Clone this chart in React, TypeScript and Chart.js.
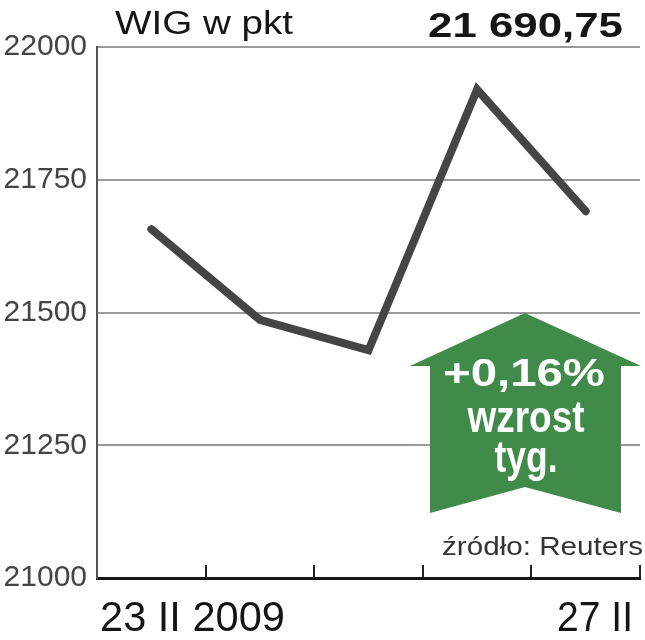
import React, { useEffect, useRef } from 'react';
import { Chart, registerables } from 'chart.js';

Chart.register(...registerables);

const categories = ['23 II 2009', '24 II', '25 II', '26 II', '27 II'];
const wigValues = [21657, 21486, 21429, 21920, 21690.75];
const yTicks = [21000, 21250, 21500, 21750, 22000];
const xEdgeLabels = ['23 II 2009', '27 II'];
const titleText = 'WIG w pkt';
const lastValueText = '21 690,75';
const changeLines = ['+0,16%', 'wzrost', 'tyg.'];
const sourceText = 'źródło: Reuters';

const FONT = '"Liberation Sans", Arial, sans-serif';

function drawFit(
  ctx: CanvasRenderingContext2D,
  text: string,
  x: number,
  baseline: number,
  width: number,
  size: number,
  weight: string,
  color: string,
  align: 'left' | 'right' | 'center'
) {
  ctx.save();
  ctx.font = `${weight} ${size}px ${FONT}`;
  const w = ctx.measureText(text).width;
  const sx = width / w;
  const left = align === 'left' ? x : align === 'right' ? x - width : x - width / 2;
  ctx.translate(left, baseline);
  ctx.scale(sx, 1);
  ctx.fillStyle = color;
  ctx.textAlign = 'left';
  ctx.textBaseline = 'alphabetic';
  ctx.fillText(text, 0, 0);
  ctx.restore();
}

const decorPlugin = {
  id: 'decor',
  afterDraw(chart: any) {
    const ctx: CanvasRenderingContext2D = chart.ctx;
    const area = chart.chartArea;

    // header
    drawFit(ctx, titleText, 115, 34, 178, 33, 'normal', '#151515', 'left');
    drawFit(ctx, lastValueText, 623, 37, 195, 35, 'bold', '#151515', 'right');

    // x edge labels
    drawFit(ctx, xEdgeLabels[0], area.left + 3, 631, 185, 43, 'normal', '#151515', 'left');
    drawFit(ctx, xEdgeLabels[1], area.right - 7, 631, 76, 43, 'normal', '#151515', 'right');

    // source
    drawFit(ctx, sourceText, 442, 555, 201, 25, 'normal', '#333333', 'left');

    // green arrow
    ctx.save();
    ctx.beginPath();
    ctx.moveTo(525, 313);
    ctx.lineTo(641, 366);
    ctx.lineTo(621, 366);
    ctx.lineTo(621, 513);
    ctx.lineTo(525, 487);
    ctx.lineTo(430, 513);
    ctx.lineTo(430, 366);
    ctx.lineTo(410, 366);
    ctx.closePath();
    ctx.fillStyle = '#408a4a';
    ctx.fill();
    ctx.restore();

    drawFit(ctx, changeLines[0], 524, 386, 162, 38, 'bold', '#ffffff', 'center');
    drawFit(ctx, changeLines[1], 526, 432, 117, 44, 'bold', '#ffffff', 'center');
    drawFit(ctx, changeLines[2], 526, 472, 63, 44, 'bold', '#ffffff', 'center');
  },
};

export default function App() {
  const ref = useRef<HTMLCanvasElement>(null);

  useEffect(() => {
    if (!ref.current) return;
    const chart = new Chart(ref.current, {
      type: 'line',
      data: {
        labels: categories,
        datasets: [
          {
            data: wigValues,
            borderColor: '#454545',
            borderWidth: 8,
            borderCapStyle: 'round',
            borderJoinStyle: 'miter',
            pointRadius: 0,
            tension: 0,
            fill: false,
          },
        ],
      },
      options: {
        animation: false,
        responsive: false,
        maintainAspectRatio: false,
        layout: { padding: { top: 47, right: 5, left: 0, bottom: 0 } },
        plugins: {
          legend: { display: false },
          tooltip: { enabled: false },
          title: { display: false },
        },
        scales: {
          x: {
            type: 'category',
            offset: true,
            grid: {
              display: true,
              offset: true,
              drawOnChartArea: false,
              drawTicks: true,
              tickLength: -13,
              color: '#222222',
              lineWidth: 2,
            },
            border: { display: true, color: '#151515', width: 3 },
            ticks: { display: false },
            afterFit: (scale: any) => {
              scale.height = 62;
            },
          },
          y: {
            min: 21000,
            max: 22000,
            afterBuildTicks: (scale: any) => {
              scale.ticks = yTicks.map((v) => ({ value: v }));
            },
            grid: {
              display: true,
              drawTicks: false,
              color: '#9a9a9a',
              lineWidth: 2,
            },
            border: { display: true, color: '#555555', width: 2 },
            ticks: {
              padding: 10,
              color: '#444444',
              font: { family: FONT, size: 30, weight: 'normal' },
              callback: (value: any) => String(value),
            },
            afterFit: (scale: any) => {
              scale.width = 97;
            },
          },
        },
      },
      plugins: [decorPlugin],
    } as any);
    return () => chart.destroy();
  }, []);

  return (
    <div style={{ position: 'absolute', left: 0, top: 0, width: 645, height: 640, background: '#fff' }}>
      <canvas ref={ref} width={645} height={640} style={{ display: 'block' }} />
    </div>
  );
}
